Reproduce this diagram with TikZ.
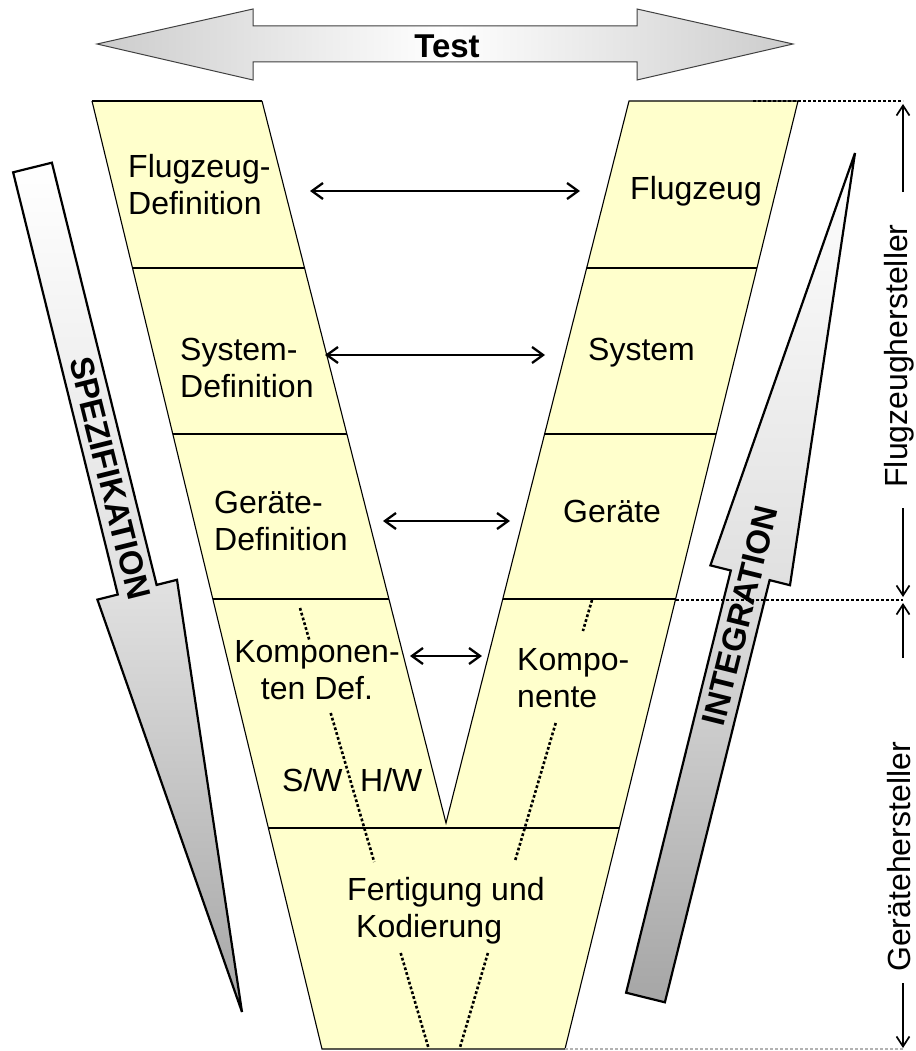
\documentclass[tikz,border=0pt]{standalone}
\usepackage{fontspec}
\setmainfont{Liberation Sans}
\usetikzlibrary{arrows.meta}
\definecolor{vyellow}{RGB}{255,255,204}
% stacked two-line labels, baseline at the first line
\newcommand\lstack[1]{\begin{tabular}[t]{@{}l@{}}#1\end{tabular}}
\newcommand\cstack[1]{\begin{tabular}[t]{@{}c@{}}#1\end{tabular}}
\begin{document}
\begin{tikzpicture}[x=1pt,y=-1pt,
  lbl/.style={font=\fontsize{32}{37}\selectfont, inner sep=0pt, anchor=base west},
  boldlbl/.style={font=\bfseries\fontsize{33}{38}\selectfont, inner sep=0pt},
  vedge/.style={line width=1.1pt, line join=miter},
  sepline/.style={line width=2.2pt},
  dbl/.style={line width=2.3pt, {Straight Barb[length=11pt,width=16pt]}-{Straight Barb[length=11pt,width=16pt]}},
  annarrow/.style={line width=1.7pt, -{Straight Barb[length=10pt,width=13pt]}},
  dots/.style={line width=2.6pt, dash pattern=on 2.8pt off 2.2pt},
  bigarrow/.style={draw=black, line width=2.2pt, top color=white, bottom color=black!35, middle color=black!12},
  testarrow/.style={draw=black!75, line width=1pt, left color=black!20, right color=black!20, middle color=white}]

\useasboundingbox (0,0) rectangle (915,1051);
\fill[white] (0,0) rectangle (915,1051);

% --- Test double block arrow ---
\draw[testarrow] (97,44) -- (253,9) -- (253,26) -- (637,26) -- (637,9) -- (793,44)
  -- (637,80) -- (637,62) -- (253,62) -- (253,80) -- cycle;
\node[boldlbl] (test) at (447,46) {Test};

% --- V shape ---
\coordinate (oTL) at (92,101);
\coordinate (iTL) at (262,101);
\coordinate (apex) at (446,823);
\coordinate (iTR) at (629,101);
\coordinate (oTR) at (798,101);
\coordinate (oBR) at (565,1049);
\coordinate (oBL) at (322,1049);
\fill[vyellow] (oTL) -- (oBL) -- (oBR) -- (oTR) -- (iTR) -- (apex) -- (iTL) -- cycle;
\draw[vedge] (oTL) -- (oBL) -- (oBR) -- (oTR) -- (iTR) -- (apex) -- (iTL);
\draw[sepline] (oTL) -- (iTL);

% level separators
\draw[sepline] (132.5,268) -- (304.6,268);
\draw[sepline] (586.7,268) -- (757,268);
\draw[sepline] (172.8,434) -- (346.8,434);
\draw[sepline] (544.6,434) -- (716.1,434);
\draw[sepline] (212.8,599) -- (388.9,599);
\draw[sepline] (502.8,599) -- (675.6,599);
\draw[sepline] (268.4,828) -- (619.3,828);

% S/W and H/W split lines
\draw[dots] (300,608) -- (309.3,640);
\draw[dots] (330.7,713) -- (374.2,862);
\draw[dots] (400.7,953) -- (428.5,1048);
\draw[dots] (592,600) -- (582.9,631);
\draw[dots] (555.7,723) -- (514.7,862);
\draw[dots] (487.9,953) -- (459.8,1048);

% --- labels in the V ---
\node[lbl] (fzd) at (128,178) {\lstack{Flugzeug-\\Definition}};
\node[lbl] (syd) at (180,360) {\lstack{System-\\Definition}};
\node[lbl] (ged) at (214,513) {\lstack{Geräte-\\Definition}};
\node[lbl, anchor=base] (kod) at (317,662) {\cstack{Komponen-\\ten Def.}};
\node[lbl] (sw) at (282,791) {S/W};
\node[lbl] (hw) at (360,791) {H/W};
\node[lbl] (fk) at (347,900) {\lstack{Fertigung und\\\hspace{9pt}Kodierung}};
\node[lbl] (fz) at (630,200) {Flugzeug};
\node[lbl] (sy) at (588,360) {System};
\node[lbl] (ge) at (563,522) {Geräte};
\node[lbl] (ko) at (517,670) {\lstack{Kompo-\\nente}};

% --- test links between the two arms ---
\coordinate (l1) at (310,191); \coordinate (r1) at (580,191);
\coordinate (l2) at (325,355); \coordinate (r2) at (545,355);
\coordinate (l3) at (383,521); \coordinate (r3) at (510,521);
\coordinate (l4) at (410,656); \coordinate (r4) at (482,656);
\draw[dbl] (l1) -- (r1);
\draw[dbl] (l2) -- (r2);
\draw[dbl] (l3) -- (r3);
\draw[dbl] (l4) -- (r4);

% --- SPEZIFIKATION arrow ---
\draw[bigarrow] (13.1,172.3) -- (51.9,162.7) -- (156.6,584.9) -- (177,579.8) -- (242,1012)
  -- (97.4,599.6) -- (117.8,594.5) -- cycle;
\node[boldlbl, rotate=-76.07] (spez) at (110,478) {SPEZIFIKATION};

% --- INTEGRATION arrow ---
\draw[bigarrow] (626.1,992.7) -- (664.9,1002.3) -- (769.6,580.1) -- (790,585.2) -- (855,153)
  -- (710.4,565.4) -- (730.8,570.5) -- cycle;
\node[boldlbl, rotate=76.07] (integ) at (740,616) {INTEGRATION};

% --- responsibility scale on the right ---
\draw[dots] (753,101) -- (903,101);
\draw[dots] (676,600) -- (903,600);
\draw[dots, black!30] (565,1049) -- (903,1049);

\node[lbl, anchor=center, rotate=90] (fh) at (899,356) {Flugzeughersteller};
\node[lbl, anchor=center, rotate=90] (gh) at (899,857) {Gerätehersteller};
\coordinate (fhA) at (903,192); \coordinate (fhB) at (903,104);
\coordinate (fhC) at (903,508); \coordinate (fhD) at (903,597);
\coordinate (ghA) at (903,658); \coordinate (ghB) at (903,603);
\coordinate (ghC) at (903,983); \coordinate (ghD) at (903,1048);
\draw[annarrow] (fhA) -- (fhB);
\draw[annarrow] (fhC) -- (fhD);
\draw[annarrow] (ghA) -- (ghB);
\draw[annarrow] (ghC) -- (ghD);
\end{tikzpicture}
\end{document}
